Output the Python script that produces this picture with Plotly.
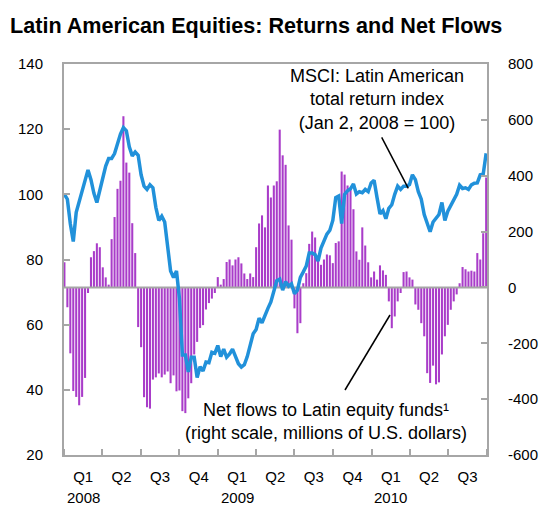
import pandas as pd
import plotly.graph_objects as go

# ---------------- data ----------------
week_start = "2008-01-02"
n_weeks = 144
dates = pd.date_range(week_start, periods=n_weeks, freq="7D")

# Net flows to Latin equity funds (millions of U.S. dollars, right scale)
net_flows = [
    90, -71, -236, -371, -392, -422, -392, -324, -20, 108,
    130, 158, 144, 72, 36, 10, 173, 252, 353, 382,
    613, 447, 411, 230, 123, -142, -214, -393, -429, -434,
    -330, -322, -308, -322, -312, -301, -343, -315, -372, -369,
    -443, -450, -397, -343, -240, -195, -145, -135, -79, -56,
    -40, -20, 37, 10, 30, 91, 100, 79, 100, 108,
    86, 50, 30, 50, 37, 144, 229, 258, 215, 365,
    322, 365, 380, 565, 473, 439, 222, 171, -75, -164,
    -128, 15, 51, 156, 200, 179, 111, 81, 100, 118,
    115, 87, 159, 165, 415, 404, 365, 355, 280, 129,
    99, 215, 150, 90, 36, 57, 28, 79, 61, 45,
    -50, -146, -104, -50, -20, 55, 57, 36, 28, -61,
    -80, -128, -175, -307, -342, -280, -347, -340, -240, -175,
    -134, -80, -50, -25, 15, 73, 65, 57, 60, 57,
    123, 100, 194, 394,
]

# MSCI Latin American total return index (Jan 2, 2008 = 100, left scale)
msci_index = [
    100, 98.5, 91, 85.5, 94.5, 98, 101.2, 105, 107.5, 104.5,
    100.3, 97.5, 101.3, 104.5, 108.7, 111, 111, 112.5, 115.5, 118.5,
    120.5, 119.5, 114.6, 111.8, 113, 112, 106, 102.5, 101.5, 102.9,
    102, 96, 92, 93.3, 91.5, 84, 76.5, 74.5, 76.5, 68,
    50.7, 50.7, 45.5, 50, 50, 43.8, 47.1, 45.8, 48.5, 48.3,
    51.5, 51.2, 53.6, 50.2, 52.5, 50, 51, 52.5, 50, 48,
    47, 47.7, 50.2, 54, 57.2, 58.5, 62, 60.6, 62.5, 65,
    67, 70, 73.5, 74, 70.6, 73.2, 71.8, 72.5, 69.5, 70.6,
    74.5, 76.2, 78, 82, 82, 81.5, 79.5, 83.5, 86, 87.8,
    89, 92, 99, 99.5, 91, 100, 101.1, 101.7, 103.2, 100.1,
    100.8, 100.5, 101.5, 100.8, 103.5, 104.3, 99, 94, 95, 92.5,
    95.7, 96.8, 100, 102.5, 101.5, 102.5, 102.5, 103, 106, 104.5,
    100.8, 98.5, 93.8, 91, 88.5, 91.5, 92.5, 93.8, 97.5, 92,
    94.8, 96.5, 98.3, 100, 102.8, 101.8, 102, 101.5, 102.9, 103.4,
    103.5, 106, 106.2, 112.6,
]

quarter_labels = ["Q1", "Q2", "Q3", "Q4", "Q1", "Q2", "Q3", "Q4", "Q1", "Q2", "Q3"]
year_labels = ["2008", "2009", "2010"]
left_ticks = [20, 40, 60, 80, 100, 120, 140]
right_ticks = [-600, -400, -200, 0, 200, 400, 600, 800]
right_tick_text = ["-600", "-400", "-200", "0", "200", "400", "600", "800"]
x_start, x_end = "2008-01-01", "2010-10-01"

# ---------------- styling ----------------
FONT = "Arial, Liberation Sans, sans-serif"
BAR_COLOR = "#A93CC9"
LINE_COLOR = "#2191DA"
AXIS_COLOR = "#A6A6A6"
TICK_SIZE = 15
NOTE_SIZE = 18

# plot area in pixels (left, right, top, bottom)
PL, PR, PT, PB = 64, 487, 64, 455
PW, PH = PR - PL, PB - PT


def px(x):
    return (x - PL) / PW


def py(y):
    return (PB - y) / PH


q_starts = pd.date_range(x_start, x_end, freq="QS")
q_mids = [q_starts[i] + (q_starts[i + 1] - q_starts[i]) / 2 for i in range(len(q_starts) - 1)]
year_pos = [q_mids[i] for i, q in enumerate(quarter_labels) if q == "Q1"]

fig = go.Figure()
fig.add_trace(go.Bar(x=dates, y=net_flows, yaxis="y", marker=dict(color=BAR_COLOR, line=dict(width=0)),
                     name="Net flows"))
# zero reference of the right scale, drawn over the bars
fig.add_trace(go.Scatter(x=[x_start, x_end], y=[0, 0], yaxis="y", mode="lines",
                         line=dict(color=AXIS_COLOR, width=2), hoverinfo="skip", showlegend=False))
fig.add_trace(go.Scatter(x=dates, y=msci_index, yaxis="y2", mode="lines",
                         line=dict(color=LINE_COLOR, width=3.5), name="MSCI"))

fig.update_layout(
    width=542, height=506,
    margin=dict(l=PL, r=542 - PR, t=PT, b=506 - PB),
    paper_bgcolor="white", plot_bgcolor="white",
    showlegend=False, bargap=0.3,
    font=dict(family=FONT, size=TICK_SIZE, color="black"),
    title=dict(text="<b>Latin American Equities: Returns and Net Flows</b>",
               font=dict(family=FONT, size=21.6, color="black"),
               x=10 / 542, xanchor="left", xref="container",
               y=1 - 25 / 506, yanchor="middle", yref="container"),
    xaxis=dict(type="date", range=[x_start, x_end], showgrid=False, zeroline=False, automargin=False,
               showline=True, linecolor=AXIS_COLOR, linewidth=2, mirror=True,
               tickmode="array", tickvals=q_mids, ticktext=quarter_labels, ticks="",
               ticklabelstandoff=7,
               minor=dict(dtick="M3", tick0=x_start, ticks="inside", ticklen=6,
                          tickwidth=2, tickcolor=AXIS_COLOR, showgrid=False),
               tickfont=dict(size=TICK_SIZE)),
    yaxis=dict(range=[-600, 800], tickmode="array", tickvals=right_ticks, ticktext=right_tick_text,
               side="right", showgrid=False, zeroline=False, automargin=False,
               showline=True, linecolor=AXIS_COLOR, linewidth=2, ticks="inside", ticklen=6,
               tickwidth=2, tickcolor=AXIS_COLOR, ticklabelstandoff=16, tickfont=dict(size=TICK_SIZE)),
    yaxis2=dict(range=[20, 140], tickmode="array", tickvals=left_ticks, side="left", overlaying="y",
                showgrid=False, zeroline=False, showline=True, linecolor=AXIS_COLOR, linewidth=2,
                automargin=False, ticks="inside", ticklen=6, tickwidth=2, tickcolor=AXIS_COLOR,
                ticklabelstandoff=16, tickfont=dict(size=TICK_SIZE)),
)

# year labels under the Q1 ticks
for yr, xp in zip(year_labels, year_pos):
    fig.add_annotation(x=xp, xref="x", y=py(497), yref="paper", text=yr, showarrow=False,
                       yanchor="middle", font=dict(size=TICK_SIZE))

# series labels
fig.add_annotation(x=px(376.5), xref="paper", y=py(99.5), yref="paper",
                   text="MSCI: Latin American<br>total return index<br>(Jan 2, 2008 = 100)",
                   showarrow=False, align="center", xanchor="center", yanchor="middle",
                   font=dict(size=NOTE_SIZE))
fig.add_annotation(x=px(326), xref="paper", y=py(421.5), yref="paper",
                   text="Net flows to Latin equity funds¹<br>(right scale, millions of U.S. dollars)",
                   showarrow=False, align="center", xanchor="center", yanchor="middle",
                   font=dict(size=NOTE_SIZE))

# pointer lines
fig.add_shape(type="line", xref="paper", yref="paper",
              x0=px(381.7), y0=py(137.3), x1=px(408.3), y1=py(188.3),
              line=dict(color="black", width=1.5))
fig.add_shape(type="line", xref="paper", yref="paper",
              x0=px(345), y0=py(390), x1=px(390), y1=py(315),
              line=dict(color="black", width=1.5))

fig.write_html("out.html", config={"displayModeBar": False},
               post_script="document.body.style.margin='0';")
